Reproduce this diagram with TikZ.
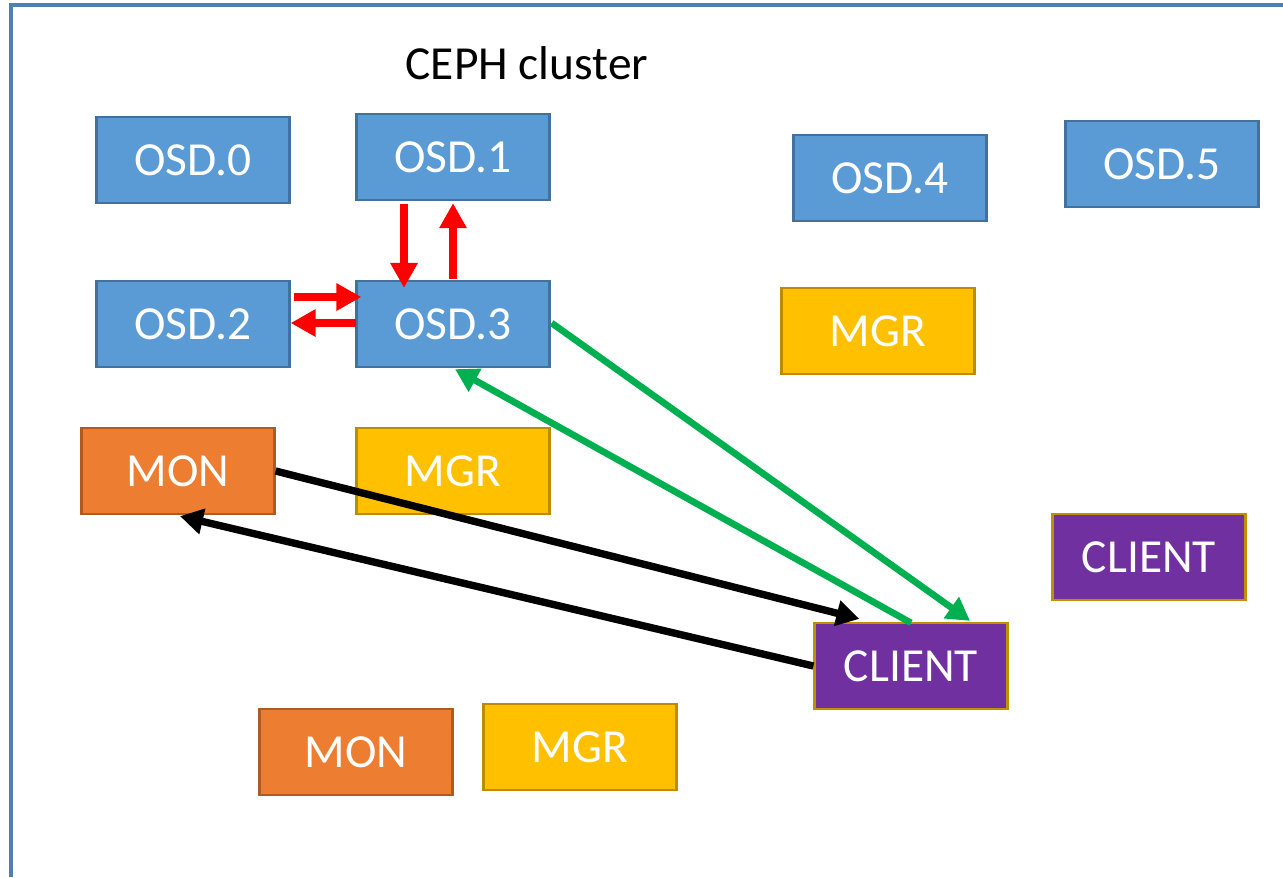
\documentclass[tikz,border=0pt]{standalone}
\usepackage{fontspec}
\setmainfont{Carlito}
\usepackage{tikz}
\usetikzlibrary{calc, arrows.meta}
\definecolor{osdfill}{HTML}{5B9BD5}
\definecolor{osdline}{HTML}{41719C}
\definecolor{monfill}{HTML}{ED7D31}
\definecolor{monline}{HTML}{AE5A21}
\definecolor{mgrfill}{HTML}{FFC000}
\definecolor{mgrline}{HTML}{BC8C00}
\definecolor{clifill}{HTML}{7030A0}
\definecolor{cliline}{HTML}{BF9000}
\definecolor{frameblue}{HTML}{4F7FB5}
\definecolor{okgreen}{HTML}{00B050}
\begin{document}
\begin{tikzpicture}[x=0.02cm, y=-0.02cm,
    box/.style={rectangle, minimum width=3.86cm, minimum height=1.72cm, inner sep=0pt,
      line width=1.3pt, text=white, font=\fontsize{27}{32}\selectfont},
    osd/.style={box, fill=osdfill, draw=osdline},
    mon/.style={box, fill=monfill, draw=monline},
    mgr/.style={box, fill=mgrfill, draw=mgrline},
    cli/.style={box, fill=clifill, draw=cliline},
    redarr/.style={draw=red, line width=4.6pt, -{Triangle[length=0.5cm, width=0.52cm]}},
    greenarr/.style={draw=okgreen, line width=3.8pt, -{Triangle[length=0.46cm, width=0.5cm]}},
    blackarr/.style={draw=black, line width=4.2pt, -{Triangle[length=0.46cm, width=0.5cm]}}]
      \useasboundingbox (0,0) rectangle (1283,877);
      \draw[frameblue, line width=1.8pt] (11,877) -- (11,5) -- (1283,5);
      \node (title) at (527,63) {\fontsize{27}{32}\selectfont CEPH cluster};
      \node[osd] (osd0) at (193,160) {OSD.0};
      \node[osd] (osd1) at (453,157) {OSD.1};
      \node[osd] (osd4) at (890,178) {OSD.4};
      \node[osd] (osd5) at (1162,164) {OSD.5};
      \node[osd] (osd2) at (193,324) {OSD.2};
      \node[osd] (osd3) at (453,324) {OSD.3};
      \node[mgr] (mgr0) at (878,331) {MGR};
      \node[mon] (mon0) at (178,471) {MON};
      \node[mgr] (mgr1) at (453,471) {MGR};
      \node[cli] (cli1) at (1149,557) {CLIENT};
      \node[cli] (cli0) at (911,666) {CLIENT};
      \node[mon] (mon1) at (356,752) {MON};
      \node[mgr] (mgr2) at (580,747) {MGR};
      \draw[redarr] ($(osd1.south)+(-49,3)$) -- ($(osd3.north)+(-49,8)$);
      \draw[redarr] ($(osd3.north)+(0,-1)$) -- ($(osd1.south)+(0,2)$);
      \draw[redarr] ($(osd2.east)+(3,-27)$) -- ($(osd3.west)+(6,-27)$);
      \draw[redarr] ($(osd3.west)+(1,-1)$) -- ($(osd2.east)+(0,-1)$);
      \draw[greenarr] ($(osd3.east)+(1,-1)$) -- ($(cli0.north)+(59,-1)$);
      \draw[greenarr] ($(cli0.north)+(0,1)$) -- ($(osd3.south)+(2,1)$);
      \draw[blackarr] (mon0.east) -- ($(cli0.north west)+(46,-3)$);
      \draw[blackarr] (cli0.west) -- ($(mon0.south)+(2,1)$);
    \end{tikzpicture}
\end{document}
